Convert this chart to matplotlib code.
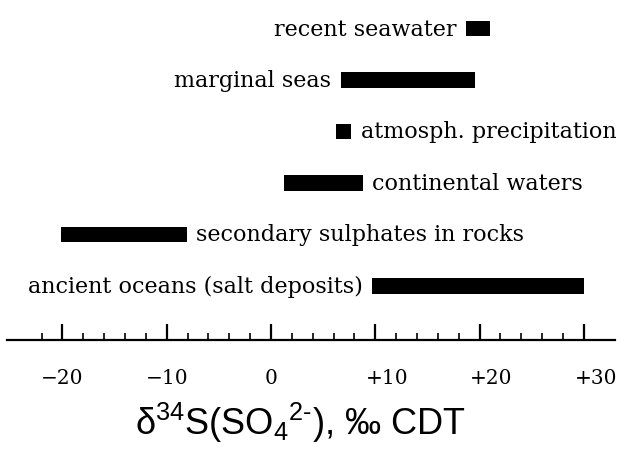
import matplotlib.pyplot as plt
import matplotlib.transforms as mtransforms
from matplotlib.ticker import FixedLocator

plt.rcParams["mathtext.fontset"] = "custom"
plt.rcParams["mathtext.rm"] = "Liberation Sans"
plt.rcParams["mathtext.it"] = "Liberation Sans:italic"

# delta-34S ranges of sulphate sources, permil CDT
sources = [
    "recent seawater",
    "marginal seas",
    "atmosph. precipitation",
    "continental waters",
    "secondary sulphates in rocks",
    "ancient oceans (salt deposits)",
]
range_lo = [18.7, 6.7, 6.2, 1.2, -20.1, 9.7]
range_hi = [21.0, 19.6, 7.7, 8.8, -8.1, 30.0]
label_side = ["left", "left", "right", "right", "right", "left"]

major_ticks = [-20, -10, 0, 10, 20, 30]
major_labels = ["\u221220", "\u221210", "0", "+10", "+20", "+30"]
minor_ticks = [v for v in range(-22, 30, 2) if v % 10 != 0]

fig = plt.figure(figsize=(6.34, 4.56), dpi=100)
ax = fig.add_axes([0, 115 / 456, 1, 341 / 456])

serif = ["DejaVu Serif"]

for i, (name, lo, hi, side) in enumerate(zip(sources, range_lo, range_hi, label_side)):
    ax.barh(i, hi - lo, left=lo, height=0.31, color="black", edgecolor="none")
    if side == "left":
        ax.text(lo - 0.9, i, name, ha="right", va="center", fontsize=16,
                family=serif)
    else:
        ax.text(hi + 0.9, i, name, ha="left", va="center", fontsize=16,
                family=serif)

ax.set_xlim(-271 / 10.43, (634 - 271) / 10.43)
ax.set_ylim((341 - 29.5) / 51.5, -29.5 / 51.5)

for s in ("left", "right", "top"):
    ax.spines[s].set_visible(False)
ax.spines["bottom"].set_linewidth(1.6)
ax.spines["bottom"].set_bounds(-25.3, 33)

ax.set_yticks([])
ax.xaxis.set_major_locator(FixedLocator(major_ticks))
ax.xaxis.set_minor_locator(FixedLocator(minor_ticks))
ax.set_xticklabels(major_labels, family=serif, fontsize=14.5)
ax.tick_params(axis="x", which="major", direction="in", length=11.5, width=1.6,
               pad=20)
ax.tick_params(axis="x", which="minor", direction="in", length=5, width=1.2)

# the signed labels sit a little to the right of their ticks
for lab, txt in zip(ax.get_xticklabels(), major_labels):
    if txt.startswith("+"):
        lab.set_transform(lab.get_transform() + mtransforms.ScaledTranslation(
            12 / 100, 0, fig.dpi_scale_trans))

fig.text(300 / 634, 1 - 423 / 456,
         "\u03b4" + r"$^{34}$S(SO$_4{}^{2\text{-}}$), ‰ CDT",
         ha="center", va="center", fontsize=26, family="Liberation Sans")

fig.savefig("out.png", dpi=100)
